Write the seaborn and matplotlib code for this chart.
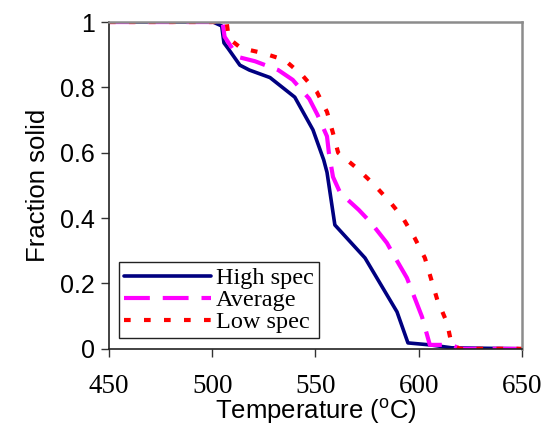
import pandas as pd
import matplotlib
matplotlib.use("Agg")
import matplotlib.pyplot as plt
import seaborn as sns

# temperature (C) and fraction solid
high_t = [450, 500.4, 504.6, 505.7, 507.6, 513.4, 518, 528, 534, 540, 548.8, 554,
          555.6, 559.4, 574, 589.5, 594.8, 605.4, 616, 650]
high_f = [1, 1, 0.988, 0.936, 0.92, 0.868, 0.853, 0.83, 0.80, 0.77, 0.67, 0.578,
          0.54, 0.379, 0.278, 0.113, 0.018, 0.012, 0.003, 0]

avg_t = [450, 505, 506, 512.5, 520.7, 532, 539, 547, 551, 555.6, 556.5, 558.5, 562,
         571, 577, 584.6, 588.5, 594.3, 601.6, 605.4, 616, 620, 650]
avg_f = [1, 1, 0.955, 0.893, 0.88, 0.853, 0.823, 0.765, 0.716, 0.65, 0.60, 0.526,
         0.477, 0.425, 0.385, 0.324, 0.28, 0.217, 0.098, 0.012, 0.012, 0, 0]

low_t = [450, 507, 508, 514, 524.6, 535, 543.5, 550.7, 555.6, 558.5, 561, 570, 578,
         586, 592, 598, 603, 609, 613.7, 616, 620, 650]
low_f = [1, 1, 0.95, 0.92, 0.905, 0.884, 0.838, 0.786, 0.725, 0.66, 0.60, 0.553,
         0.505, 0.45, 0.404, 0.34, 0.278, 0.15, 0.08, 0.012, 0, 0]

x_ticks = [450, 500, 550, 600, 650]
y_ticks = [0, 0.2, 0.4, 0.6, 0.8, 1]
y_tick_labels = ["0", "0.2", "0.4", "0.6", "0.8", "1"]

sns.set_theme(style="ticks")
plt.rcParams["font.family"] = ["Liberation Sans", "DejaVu Sans"]
plt.rcParams["text.color"] = "black"
plt.rcParams["axes.labelcolor"] = "black"
plt.rcParams["xtick.labelcolor"] = "black"
plt.rcParams["ytick.labelcolor"] = "black"

fig = plt.figure(figsize=(5.42, 4.36), dpi=100)
ax = fig.add_axes([0.201, 0.2, 0.762, 0.7495])

sns.lineplot(x=high_t, y=high_f, ax=ax, color="#000080", lw=2.6, sort=False,
             label="High spec")
sns.lineplot(x=avg_t, y=avg_f, ax=ax, color="#ff00ff", lw=3, sort=False,
             label="Average", dashes=False)
sns.lineplot(x=low_t, y=low_f, ax=ax, color="#ff0000", lw=3, sort=False,
             label="Low spec", dashes=False)
ax.lines[1].set_dashes((6.2, 3.1))
ax.lines[2].set_dashes((1.6, 3.2))

ax.set_xlim(450, 650)
ax.set_ylim(0, 1)
ax.set_xticks(x_ticks)
ax.set_xticklabels([str(t) for t in x_ticks], family="Liberation Serif", fontsize=19.5)
ax.set_yticks(y_ticks)
ax.set_yticklabels(y_tick_labels, fontsize=18)
ax.tick_params(axis="both", direction="out", length=6, width=1, color="#333333", pad=4)
ax.tick_params(axis="x", pad=12)

ax.set_xlabel(r"Temperature ($\mathregular{^o}$C)", fontsize=18.5, labelpad=-1)
ax.set_ylabel("Fraction solid", fontsize=18.5, labelpad=7)

for side in ["left", "bottom"]:
    ax.spines[side].set_color("#222222")
    ax.spines[side].set_linewidth(1.2)
for side in ["top", "right"]:
    ax.spines[side].set_visible(True)
    ax.spines[side].set_color("#8c8c8c")
    ax.spines[side].set_linewidth(1.8)

leg = ax.legend(loc="lower left", bbox_to_anchor=(0.024, 0.033), fancybox=False,
                frameon=True, edgecolor="#222222", framealpha=1,
                prop={"family": "Liberation Serif", "size": 17.5},
                handlelength=3.6, handletextpad=0.2, labelspacing=0.0,
                borderpad=0.2, borderaxespad=0)
leg.get_frame().set_linewidth(1.0)

fig.savefig("out.png", dpi=100)
